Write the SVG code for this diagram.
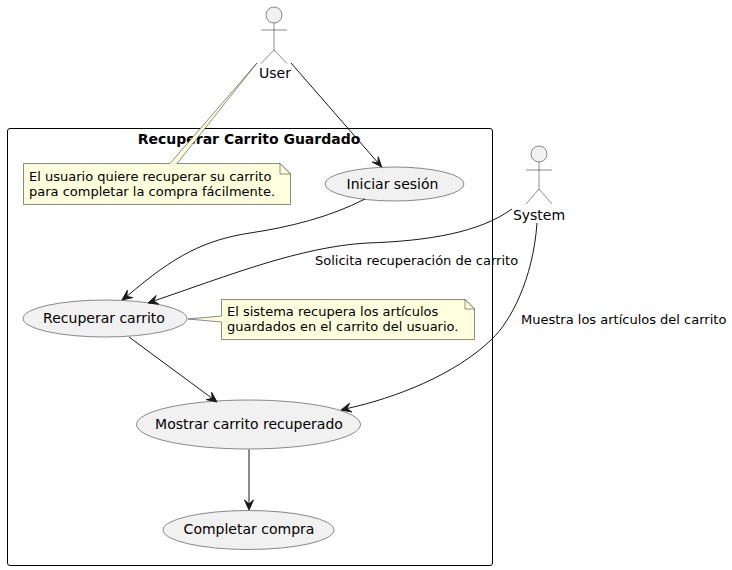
<svg xmlns="http://www.w3.org/2000/svg" width="732" height="570" viewBox="0 0 732 570">
<style>
text{font-family:"DejaVu Sans",sans-serif;font-size:14px;fill:#000}
.uc{fill:#f1f1f1;stroke:#181818;stroke-width:.5}
.note{fill:#feffdd;stroke:#181818;stroke-width:.5}
.a{fill:#f1f1f1;stroke:#181818;stroke-width:.5}
.l{fill:none;stroke:#181818;stroke-width:.5}
.c{fill:none;stroke:#181818;stroke-width:1}
.h{fill:#181818;stroke:#181818;stroke-width:1}
.n13{font-size:13px}
</style>
<rect width="732" height="570" fill="#fff"/>
<g id="boundary"><rect x="7.5" y="128.5" width="485" height="437" rx="2.500" fill="none" stroke="#000" stroke-width="1"/></g>
<g id="title"><text x="249" y="143.500" text-anchor="middle" style="font-weight:700">Recuperar Carrito Guardado</text></g>
<g id="user">
<circle class="a" cx="274" cy="15" r="8"/>
<path class="l" d="M274 23V50M261 30H287M274 50L261 63.500M274 50L287 63.500"/>
<text x="275" y="78" text-anchor="middle">User</text>
</g>
<g id="system">
<circle class="a" cx="539" cy="154" r="8"/>
<path class="l" d="M539 162V189M526 170H552M539 189L526 204M539 189L552 204"/>
<text x="539" y="219.500" text-anchor="middle">System</text>
</g>
<g id="note1">
<path class="note" d="M23.500 163.500H170L257 63L177 163.500H280L290.500 174V204.500H23.500Z"/>
<path class="note" d="M280 163.500V174H290.500Z"/>
<text class="n13" x="29" y="181">El usuario quiere recuperar su carrito</text>
<text class="n13" x="29" y="196">para completar la compra fácilmente.</text>
</g>
<g id="iniciar"><ellipse class="uc" cx="394.500" cy="184" rx="69.500" ry="17"/><text x="392.500" y="188.500" text-anchor="middle">Iniciar sesión</text></g>
<g id="recuperar"><ellipse class="uc" cx="105" cy="318.500" rx="82" ry="18.500"/><text x="104" y="322.500" text-anchor="middle">Recuperar carrito</text></g>
<g id="note2">
<path class="note" d="M221.500 299.500H465L474.500 309V339.500H221.500V322L188 319L221.500 316Z"/>
<path class="note" d="M465 299.500V309H474.500Z"/>
<text class="n13" x="227" y="316">El sistema recupera los artículos</text>
<text class="n13" x="227" y="331">guardados en el carrito del usuario.</text>
</g>
<g id="mostrar"><ellipse class="uc" cx="248.500" cy="424.500" rx="112" ry="24.500"/><text x="249" y="429" text-anchor="middle">Mostrar carrito recuperado</text></g>
<g id="completar"><ellipse class="uc" cx="248.500" cy="530" rx="85.500" ry="19.500"/><text x="249" y="533.500" text-anchor="middle">Completar compra</text></g>
<g id="connectors">
<path class="c" d="M291 63L378 162.800"/><path class="h" d="M381.700 167L378.200 156.800L378 162.800L372.200 162Z"/>
<path class="c" d="M365 199C330 217 290 227 250 233C205 240 175 255 126.800 296.400"/><path class="h" d="M122 300L132.700 297.600L126.800 296.400L127.300 290.400Z"/>
<path class="c" d="M512 209C480 232 430 241 367 243C300 247 230 275 153.700 301"/><path class="h" d="M148 303L158.900 304.200L153.700 301.100L156.100 295.600Z"/>
<path class="c" d="M129 337L212.200 398.400"/><path class="h" d="M217 402L211.700 392.400L212.200 398.400L206.300 399.600Z"/>
<path class="c" d="M537 223C533 280 510 322 492 339C455 375 395 398 346.800 408.600"/><path class="h" d="M341 410L351.800 412L346.800 408.600L349.600 403.200Z"/>
<path class="c" d="M249 449.500V504"/><path class="h" d="M249 510L253.500 500L249 504L244.500 500Z"/>
</g>
<g id="labels">
<text class="n13" x="315" y="265">Solicita recuperación de carrito</text>
<text class="n13" x="521" y="324">Muestra los artículos del carrito</text>
</g>
</svg>
